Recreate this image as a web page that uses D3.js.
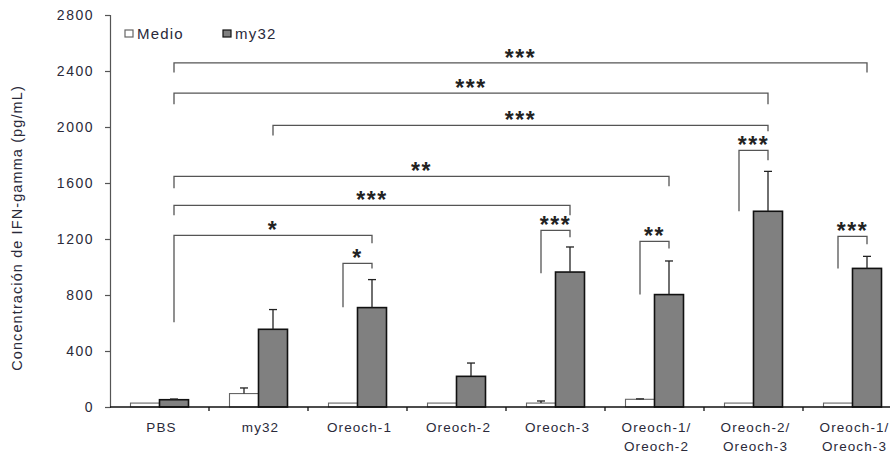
<!DOCTYPE html>
<html>
<head>
<meta charset="utf-8">
<script src="https://cdn.jsdelivr.net/npm/d3@7/dist/d3.min.js"></script>
<style>
  html, body { margin: 0; padding: 0; background: #ffffff; }
  svg { display: block; font-family: "Liberation Sans", Arial, sans-serif; }
</style>
</head>
<body>
<svg id="chart" width="890" height="453"></svg>
<script>
// ---------- data ----------
const categories = ["PBS", "my32", "Oreoch-1", "Oreoch-2", "Oreoch-3", "Oreoch-1/\nOreoch-2", "Oreoch-2/\nOreoch-3", "Oreoch-1/\nOreoch-3"];
const seriesNames = ["Medio", "my32"];
const medioValues = [28, 96, 28, 28, 28, 55, 28, 28];
const medioErrors = [0, 40, 0, 0, 15, 3, 0, 0];
const my32Values = [52, 555, 710, 219, 964, 803, 1398, 990];
const my32Errors = [5, 141, 200, 95, 179, 240, 285, 86];
const yTicks = [0, 400, 800, 1200, 1600, 2000, 2400, 2800];
const yLabel = "Concentración de IFN-gamma (pg/mL)";

// significance brackets: from [category, series] to [category, series]; level & leg ends in pg/mL
const brackets = [
  { from: ["PBS", "my32"], to: ["Oreoch-1/\nOreoch-3", "my32"], level: 2458, leftEnd: 2390, rightEnd: 2390, label: "***" },
  { from: ["PBS", "my32"], to: ["Oreoch-2/\nOreoch-3", "my32"], level: 2242, leftEnd: 2162, rightEnd: 2162, label: "***" },
  { from: ["my32", "my32"], to: ["Oreoch-2/\nOreoch-3", "my32"], level: 2012, leftEnd: 1940, rightEnd: 1969, label: "***" },
  { from: ["PBS", "my32"], to: ["Oreoch-1/\nOreoch-2", "my32"], level: 1648, leftEnd: 1562, rightEnd: 1576, label: "**" },
  { from: ["PBS", "my32"], to: ["Oreoch-3", "my32"], level: 1440, leftEnd: 1369, rightEnd: 1369, label: "***" },
  { from: ["PBS", "my32"], to: ["Oreoch-1", "my32"], level: 1226, leftEnd: 605, rightEnd: 1169, label: "*" },
  { from: ["Oreoch-1", "Medio"], to: ["Oreoch-1", "my32"], level: 1026, leftEnd: 713, rightEnd: 990, label: "*" },
  { from: ["Oreoch-3", "Medio"], to: ["Oreoch-3", "my32"], level: 1262, leftEnd: 955, rightEnd: 1212, label: "***" },
  { from: ["Oreoch-1/\nOreoch-2", "Medio"], to: ["Oreoch-1/\nOreoch-2", "my32"], level: 1183, leftEnd: 803, rightEnd: 1133, label: "**" },
  { from: ["Oreoch-2/\nOreoch-3", "Medio"], to: ["Oreoch-2/\nOreoch-3", "my32"], level: 1833, leftEnd: 1398, rightEnd: 1762, label: "***" },
  { from: ["Oreoch-1/\nOreoch-3", "Medio"], to: ["Oreoch-1/\nOreoch-3", "my32"], level: 1219, leftEnd: 990, rightEnd: 1162, label: "***" }
];

// ---------- layout ----------
const svg = d3.select("#chart");
const mLeft = 110, mRight = 902, mTop = 15, mBottom = 407;

const x0 = d3.scaleBand().domain(categories).range([mLeft, mRight]).paddingInner(0).paddingOuter(0);
const x1 = d3.scaleBand().domain(seriesNames).range([0, x0.bandwidth()]).paddingInner(0).paddingOuter(0.707);
const y = d3.scaleLinear().domain([0, 2800]).range([mBottom, mTop]);

const rows = categories.map((c, i) => ({
  cat: c,
  vals: [
    { s: "Medio", v: medioValues[i], e: medioErrors[i] },
    { s: "my32", v: my32Values[i], e: my32Errors[i] }
  ]
}));
const fills = { Medio: "#ffffff", my32: "#808080" };
const strokes = { Medio: "#666666", my32: "#111111" };

// y axis
const yAxis = d3.axisLeft(y).tickValues(yTicks).tickSize(5).tickPadding(11).tickFormat(d3.format("d"));
const gy = svg.append("g").attr("transform", `translate(${mLeft},0)`).call(yAxis);
gy.select(".domain").attr("stroke", "#555").attr("stroke-width", 1.2);
gy.selectAll(".tick line").attr("stroke", "#555").attr("stroke-width", 1.2);
gy.selectAll(".tick text").attr("fill", "#2a2a3a").style("font-size", "14px").style("letter-spacing", "1.5px")
  .style("font-family", "'Liberation Sans', Arial, sans-serif");

// y label
svg.append("text")
  .attr("transform", `translate(22,${(mTop + mBottom) / 2 + 17}) rotate(-90)`)
  .attr("text-anchor", "middle")
  .attr("fill", "#2a2a3a")
  .style("font-size", "14.5px")
  .style("letter-spacing", "1.1px")
  .text(yLabel);

// bars
const gBars = svg.append("g");
rows.forEach(r => {
  const g = gBars.append("g").attr("transform", `translate(${x0(r.cat)},0)`);
  g.selectAll("rect").data(r.vals).join("rect")
    .attr("x", d => x1(d.s))
    .attr("y", d => y(d.v))
    .attr("width", x1.bandwidth())
    .attr("height", d => y(0) - y(d.v))
    .attr("fill", d => fills[d.s])
    .attr("stroke", d => strokes[d.s])
    .attr("stroke-width", d => d.s === "my32" ? 1.6 : 1.1);
  const eb = r.vals.filter(d => d.e > 0);
  g.selectAll("line.err").data(eb).join("line").attr("class", "err")
    .attr("x1", d => x1(d.s) + x1.bandwidth() / 2)
    .attr("x2", d => x1(d.s) + x1.bandwidth() / 2)
    .attr("y1", d => y(d.v))
    .attr("y2", d => y(d.v + d.e))
    .attr("stroke", "#222").attr("stroke-width", 1.3);
  g.selectAll("line.cap").data(eb).join("line").attr("class", "cap")
    .attr("x1", d => x1(d.s) + x1.bandwidth() / 2 - 4)
    .attr("x2", d => x1(d.s) + x1.bandwidth() / 2 + 4)
    .attr("y1", d => y(d.v + d.e))
    .attr("y2", d => y(d.v + d.e))
    .attr("stroke", "#222").attr("stroke-width", 1.3);
});

// x axis
const gx = svg.append("g").attr("transform", `translate(0,${mBottom})`);
gx.append("line").attr("x1", mLeft).attr("x2", 890).attr("y1", 0).attr("y2", 0)
  .attr("stroke", "#111").attr("stroke-width", 1.6);
gx.selectAll("line.tk").data(categories.slice(1)).join("line").attr("class", "tk")
  .attr("x1", d => x0(d)).attr("x2", d => x0(d))
  .attr("y1", 0).attr("y2", 4).attr("stroke", "#111").attr("stroke-width", 1.3);
const xl = gx.selectAll("text.xl").data(categories).join("text").attr("class", "xl")
  .attr("text-anchor", "middle")
  .attr("fill", "#2a2a3a")
  .style("font-size", "13.5px")
  .style("letter-spacing", "1.1px");
xl.each(function (d) {
  const lines = d.split("\n");
  const t = d3.select(this);
  lines.forEach((ln, i) => {
    t.append("tspan")
      .attr("x", x0(d) + x0.bandwidth() / 2 + 2)
      .attr("y", 25 + i * 19)
      .text(ln);
  });
});

// brackets
const bx = (c, s) => x0(c) + x1(s) + x1.bandwidth() / 2;
const gb = svg.append("g");
brackets.forEach(b => {
  const xa = bx(b.from[0], b.from[1]);
  const xb = bx(b.to[0], b.to[1]);
  const path = d3.path();
  path.moveTo(xa, y(b.leftEnd));
  path.lineTo(xa, y(b.level));
  path.lineTo(xb, y(b.level));
  path.lineTo(xb, y(b.rightEnd));
  gb.append("path").attr("d", path.toString())
    .attr("fill", "none").attr("stroke", "#555").attr("stroke-width", 1.3);
  gb.append("text")
    .attr("x", (xa + xb) / 2)
    .attr("y", y(b.level) + 3)
    .attr("text-anchor", "middle")
    .attr("fill", "#222")
    .style("font-size", "23px")
    .style("font-weight", "bold")
    .style("letter-spacing", "1.5px")
    .text(b.label);
});

// legend
const lg = svg.append("g");
const legendItems = [{ s: "Medio", x: 125 }, { s: "my32", x: 223 }];
lg.selectAll("rect").data(legendItems).join("rect")
  .attr("x", d => d.x).attr("y", 30).attr("width", 8).attr("height", 7)
  .attr("fill", d => fills[d.s]).attr("stroke", d => strokes[d.s]).attr("stroke-width", 1.2);
lg.selectAll("text").data(legendItems).join("text")
  .attr("x", d => d.x + 12).attr("y", 38.5)
  .attr("fill", "#2a2a3a")
  .style("font-size", "15px")
  .style("letter-spacing", "1.2px")
  .text(d => d.s);
</script>
</body>
</html>
